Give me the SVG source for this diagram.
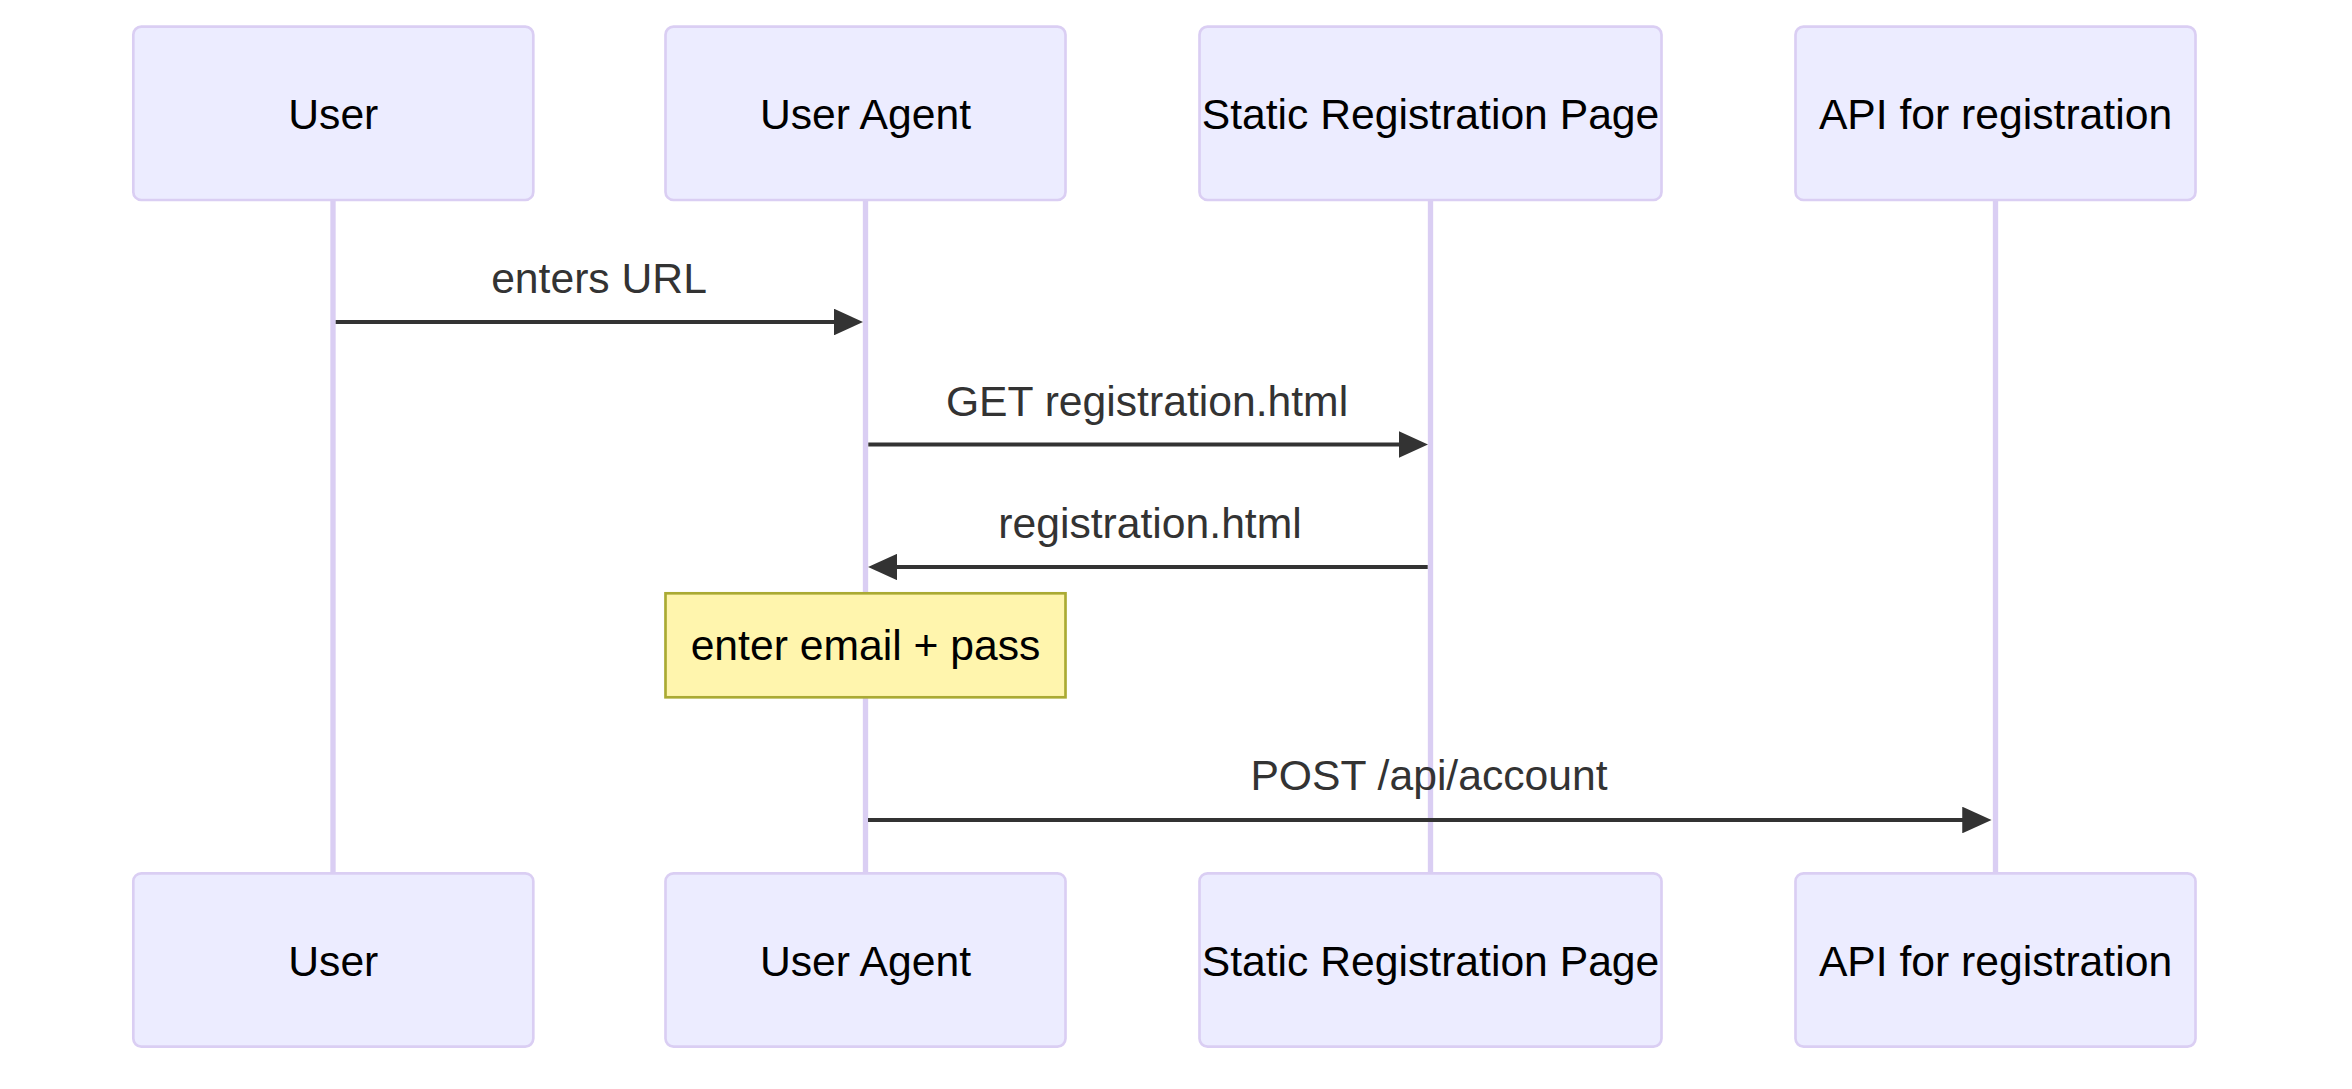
<svg xmlns="http://www.w3.org/2000/svg" width="2352" height="1089" viewBox="0 0 2352 1089">
<style>
  .actor rect { fill: #ECECFF; stroke: #DACEF3; stroke-width: 2.67; }
  .actor text { font-family: "Liberation Sans", Arial, sans-serif; font-size: 42.67px; fill: #000; text-anchor: middle; }
  .lifeline { stroke: #DACEF3; stroke-width: 5.33; }
  .msg { stroke: #333; stroke-width: 4; fill: none; marker-end: url(#arrow); }
  .msgtext { font-family: "Liberation Sans", Arial, sans-serif; font-size: 42.67px; fill: #333; text-anchor: middle; }
  .note rect { fill: #FFF5AD; stroke: #AAAA33; stroke-width: 2.67; }
  .note text { font-family: "Liberation Sans", Arial, sans-serif; font-size: 42.67px; fill: #000; text-anchor: middle; }
</style>
<defs>
  <marker id="arrow" viewBox="-1 0 11 10" markerUnits="userSpaceOnUse" markerWidth="29.33" markerHeight="26.67" refX="0" refY="5" orient="auto">
    <path d="M -1 0 L 10 5 L -1 10 z" fill="#333"/>
  </marker>
</defs>
<rect width="2352" height="1089" fill="#FFFFFF"/>
<g id="lifelines">
  <line class="lifeline" x1="333" y1="200" x2="333" y2="873"/>
  <line class="lifeline" x1="865.5" y1="200" x2="865.5" y2="873"/>
  <line class="lifeline" x1="1430.5" y1="200" x2="1430.5" y2="873"/>
  <line class="lifeline" x1="1995.5" y1="200" x2="1995.5" y2="873"/>
</g>
<g id="actor-user-top" class="actor">
  <rect x="133.3" y="26.7" width="400" height="173.3" rx="8" ry="8"/>
  <text x="333.3" y="128.5">User</text>
</g>
<g id="actor-useragent-top" class="actor">
  <rect x="665.5" y="26.7" width="400" height="173.3" rx="8" ry="8"/>
  <text x="865.5" y="128.5">User Agent</text>
</g>
<g id="actor-static-top" class="actor">
  <rect x="1199.5" y="26.7" width="462" height="173.3" rx="8" ry="8"/>
  <text x="1430.5" y="128.5">Static Registration Page</text>
</g>
<g id="actor-api-top" class="actor">
  <rect x="1795.5" y="26.7" width="400" height="173.3" rx="8" ry="8"/>
  <text x="1995.5" y="128.5">API for registration</text>
</g>
<g id="actor-user-bottom" class="actor">
  <rect x="133.3" y="873.3" width="400" height="173.3" rx="8" ry="8"/>
  <text x="333.3" y="975.5">User</text>
</g>
<g id="actor-useragent-bottom" class="actor">
  <rect x="665.5" y="873.3" width="400" height="173.3" rx="8" ry="8"/>
  <text x="865.5" y="975.5">User Agent</text>
</g>
<g id="actor-static-bottom" class="actor">
  <rect x="1199.5" y="873.3" width="462" height="173.3" rx="8" ry="8"/>
  <text x="1430.5" y="975.5">Static Registration Page</text>
</g>
<g id="actor-api-bottom" class="actor">
  <rect x="1795.5" y="873.3" width="400" height="173.3" rx="8" ry="8"/>
  <text x="1995.5" y="975.5">API for registration</text>
</g>
<g id="messages">
  <text class="msgtext" x="599" y="293">enters URL</text>
  <line class="msg" x1="335.7" y1="322" x2="836.6" y2="322"/>
  <text class="msgtext" x="1147" y="415.5">GET registration.html</text>
  <line class="msg" x1="868.3" y1="444.5" x2="1401.6" y2="444.5"/>
  <text class="msgtext" x="1150" y="538">registration.html</text>
  <line class="msg" x1="1427.7" y1="567" x2="894.7" y2="567"/>
  <text class="msgtext" x="1429" y="790">POST /api/account</text>
  <line class="msg" x1="868" y1="820" x2="1964.9" y2="820"/>
</g>
<g id="note-enter-email" class="note">
  <rect x="665.5" y="593.3" width="400" height="104"/>
  <text x="865.5" y="660">enter email + pass</text>
</g>
</svg>
